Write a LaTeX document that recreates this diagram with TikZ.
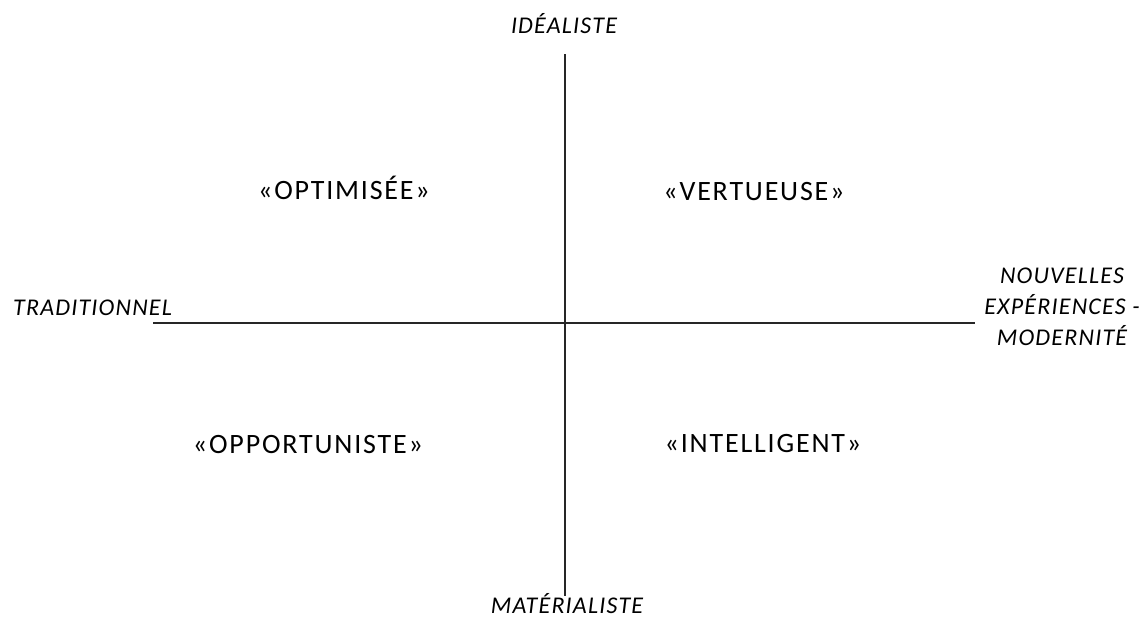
\documentclass[tikz,border=0pt]{standalone}
\usepackage{fontspec}
\setmainfont{Carlito}
\newfontfamily\axisfont[LetterSpace=5]{Carlito}
\newfontfamily\quadfont[LetterSpace=6.5]{Carlito}
\begin{document}
\begin{tikzpicture}[x=1pt,y=-1pt,
  axislbl/.style={font=\axisfont\fontsize{24}{31}\selectfont\itshape, inner sep=0pt},
  quadlbl/.style={font=\quadfont\fontsize{28}{32}\selectfont, inner sep=0pt, anchor=base},
  axisline/.style={line width=1.4pt, draw=black!85}]
\useasboundingbox (0,0) rectangle (1142,632);
\coordinate (top) at (565,54);
\coordinate (bot) at (565,596);
\coordinate (lft) at (153,323);
\coordinate (rgt) at (975,323);
\draw[axisline] (top) -- (bot);
\draw[axisline] (lft) -- (rgt);
\node[axislbl, anchor=base] (ideal) at (564,33) {IDÉALISTE};
\node[axislbl, anchor=base] (mater) at (567,613) {MATÉRIALISTE};
\node[axislbl, anchor=base west] (trad) at (13,315) {TRADITIONNEL};
\node[axislbl, anchor=base, align=center] (modern) at (1062,345) {NOUVELLES\\EXPÉRIENCES -\\MODERNITÉ};
\node[quadlbl] (optim) at (344,199) {«OPTIMISÉE»};
\node[quadlbl] (vertu) at (754,200) {«VERTUEUSE»};
\node[quadlbl] (oppor) at (308,453) {«OPPORTUNISTE»};
\node[quadlbl] (intel) at (763,452) {«INTELLIGENT»};
\end{tikzpicture}
\end{document}
